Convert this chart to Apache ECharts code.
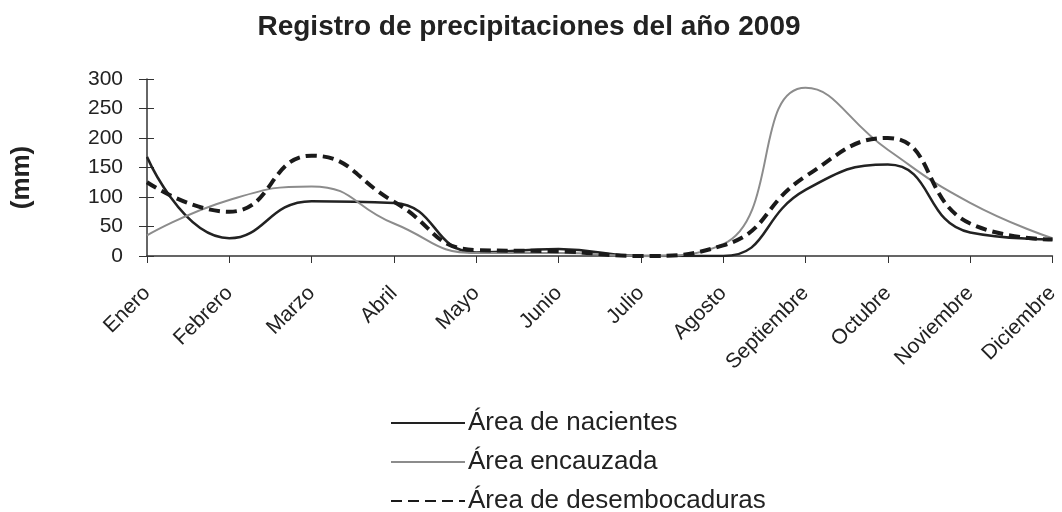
<!DOCTYPE html>
<html>
<head>
<meta charset="utf-8">
<script src="https://cdn.jsdelivr.net/npm/echarts@6/dist/echarts.min.js"></script>
<style>
  html, body { margin: 0; padding: 0; background: #fff; }
  #main { width: 1062px; height: 512px; }
</style>
</head>
<body>
<div id="main"></div>
<script>
// meses del año
const meses = ['Enero', 'Febrero', 'Marzo', 'Abril', 'Mayo', 'Junio', 'Julio',
  'Agosto', 'Septiembre', 'Octubre', 'Noviembre', 'Diciembre'];

// precipitación (mm)
const nacientes = [168, 30, 93, 90, 6, 12, 0, 0, 112, 155, 40, 28];
const encauzada = [35, 95, 118, 55, 5, 5, 0, 20, 285, 180, 90, 30];
const desembocaduras = [125, 75, 170, 92, 10, 8, 0, 18, 135, 200, 55, 28];

const font = '"Liberation Sans", Arial, sans-serif';

const chart = echarts.init(document.getElementById('main'));

const option = {
  animation: false,
  title: {
    text: 'Registro de precipitaciones del año 2009',
    left: 524,
    textAlign: 'center',
    top: 8,
    textStyle: { fontFamily: font, fontSize: 28, fontWeight: 'bold', color: '#222' }
  },
  legend: {
    orient: 'vertical',
    left: 390,
    top: 410,
    padding: 0,
    height: 110,
    itemWidth: 74,
    itemHeight: 14,
    itemGap: 13,
    itemStyle: { opacity: 0 },
    textStyle: { fontFamily: font, fontSize: 26, color: '#222', padding: [0, 0, 0, -2] },
    data: ['Área de nacientes', 'Área encauzada', 'Área de desembocaduras']
  },
  grid: { left: 147, right: 9, top: 79, bottom: 256 },
  xAxis: {
    type: 'category',
    data: meses,
    boundaryGap: false,
    axisLine: { lineStyle: { color: '#333', width: 1.5 } },
    axisTick: { length: 7, lineStyle: { color: '#333' } },
    axisLabel: { rotate: 45, fontFamily: font, fontSize: 21, color: '#222', margin: 34 }
  },
  yAxis: [
    {
      type: 'value',
      min: 0,
      max: 300,
      interval: 50,
      name: '(mm)',
      nameLocation: 'middle',
      nameGap: 112,
      nameRotate: 90,
      nameTextStyle: { fontFamily: font, fontSize: 26, fontWeight: 'bold', color: '#222', padding: [0, 0, 0, -20] },
      splitLine: { show: false },
      axisLine: { show: true, lineStyle: { color: '#333', width: 1.5 } },
      axisTick: { show: true, length: 8, lineStyle: { color: '#333' } },
      axisLabel: { fontFamily: font, fontSize: 21, color: '#222', margin: 24 }
    },
    {
      // marcas hacia dentro para que crucen el eje
      type: 'value',
      position: 'left',
      min: 0,
      max: 300,
      interval: 50,
      splitLine: { show: false },
      axisLine: { show: false },
      axisTick: { show: true, inside: true, length: 7, lineStyle: { color: '#333' } },
      axisLabel: { show: false }
    }
  ],
  series: [
    {
      name: 'Área de nacientes',
      type: 'line',
      data: nacientes,
      smooth: 0.5,
      symbol: 'none',
      lineStyle: { color: '#222', width: 2.5 },
      itemStyle: { color: '#222' }
    },
    {
      name: 'Área encauzada',
      type: 'line',
      data: encauzada,
      smooth: 0.5,
      symbol: 'none',
      lineStyle: { color: '#8c8c8c', width: 2 },
      itemStyle: { color: '#8c8c8c' }
    },
    {
      name: 'Área de desembocaduras',
      type: 'line',
      data: desembocaduras,
      smooth: 0.5,
      symbol: 'none',
      lineStyle: { color: '#1a1a1a', width: 4, type: [11, 6] },
      itemStyle: { color: '#1a1a1a' }
    }
  ]
};

chart.setOption(option);
</script>
</body>
</html>
